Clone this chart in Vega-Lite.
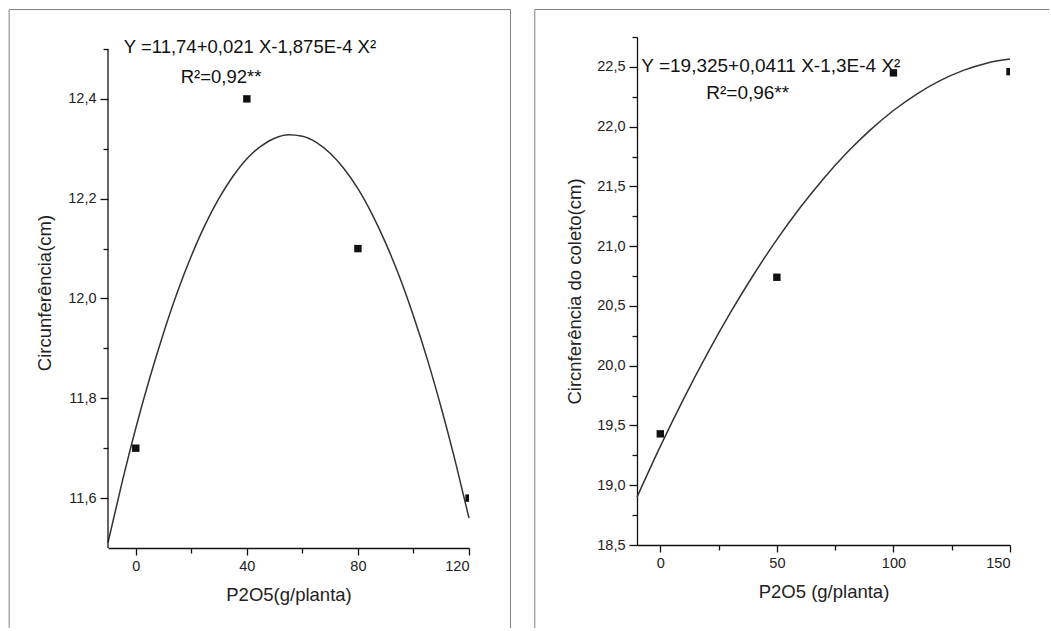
{
  "$schema": "https://vega.github.io/schema/vega-lite/v6.json",
  "padding": {"left": 8, "top": 9, "right": 0, "bottom": 0},
  "background": "white",
  "spacing": 22,
  "config": {
    "view": {"stroke": null},
    "font": "Liberation Sans",
    "axis": {
      "grid": false, "domainColor": "#111", "tickColor": "#111", "domainWidth": 1.3, "tickWidth": 1.3,
      "labelFont": "Liberation Sans", "labelFontSize": 14.5, "labelColor": "#222",
      "titleFont": "Liberation Sans", "titleFontSize": 18.5, "titleFontWeight": "normal", "titleColor": "#222"
    }
  },
  "datasets": {
    "pts1": [{"x": 0, "y": 11.7}, {"x": 40, "y": 12.4}, {"x": 80, "y": 12.1}, {"x": 120, "y": 11.6}],
    "fit1": [
      {"x": -10, "y": 11.511}, {"x": -5, "y": 11.630}, {"x": 0, "y": 11.740}, {"x": 5, "y": 11.840},
      {"x": 10, "y": 11.931}, {"x": 15, "y": 12.013}, {"x": 20, "y": 12.085}, {"x": 25, "y": 12.148},
      {"x": 30, "y": 12.201}, {"x": 35, "y": 12.245}, {"x": 40, "y": 12.280}, {"x": 45, "y": 12.305},
      {"x": 50, "y": 12.321}, {"x": 55, "y": 12.328}, {"x": 60, "y": 12.325}, {"x": 65, "y": 12.313},
      {"x": 70, "y": 12.291}, {"x": 75, "y": 12.260}, {"x": 80, "y": 12.220}, {"x": 85, "y": 12.170},
      {"x": 90, "y": 12.111}, {"x": 95, "y": 12.043}, {"x": 100, "y": 11.965}, {"x": 105, "y": 11.878},
      {"x": 110, "y": 11.781}, {"x": 115, "y": 11.675}, {"x": 120, "y": 11.560}
    ],
    "pts2": [{"x": 0, "y": 19.43}, {"x": 50, "y": 20.74}, {"x": 100, "y": 22.45}, {"x": 150, "y": 22.46}],
    "fit2": [
      {"x": -10, "y": 18.901}, {"x": 0, "y": 19.325}, {"x": 10, "y": 19.723}, {"x": 20, "y": 20.095},
      {"x": 30, "y": 20.441}, {"x": 40, "y": 20.761}, {"x": 50, "y": 21.055}, {"x": 60, "y": 21.323},
      {"x": 70, "y": 21.565}, {"x": 80, "y": 21.781}, {"x": 90, "y": 21.971}, {"x": 100, "y": 22.135},
      {"x": 110, "y": 22.273}, {"x": 120, "y": 22.385}, {"x": 130, "y": 22.471}, {"x": 140, "y": 22.531},
      {"x": 150, "y": 22.565}
    ]
  },
  "hconcat": [
    {
      "width": 361, "height": 511,
      "resolve": {"axis": {"x": "independent", "y": "independent"}},
      "layer": [
        {
          "data": {"name": "fit1"},
          "mark": {"type": "line", "color": "#333", "strokeWidth": 1.5, "interpolate": "monotone"},
          "encoding": {
            "x": {"field": "x", "type": "quantitative", "scale": {"domain": [-10, 120], "nice": false, "zero": false},
              "axis": {"values": [0, 40, 80, 120], "tickSize": 7, "labelPadding": 4, "title": "P2O5(g/planta)", "titlePadding": 13}},
            "y": {"field": "y", "type": "quantitative", "scale": {"domain": [11.5, 12.524], "nice": false, "zero": false},
              "axis": {"values": [11.6, 11.8, 12.0, 12.2, 12.4], "domain": false, "tickSize": 8, "labelPadding": 4,
                "title": "Circunferência(cm)", "titlePadding": 13,
                "labelExpr": "replace(format(datum.value, '.1f'), '.', ',')"}}
          }
        },
        {
          "data": {"name": "pts1"},
          "mark": {"type": "point", "shape": "square", "filled": true, "size": 55, "color": "#111", "opacity": 1, "clip": true},
          "encoding": {
            "x": {"field": "x", "type": "quantitative",
              "axis": {"orient": "bottom", "values": [20, 60, 100], "tickSize": 5, "labels": false, "domain": false, "title": null}},
            "y": {"field": "y", "type": "quantitative",
              "axis": {"orient": "left", "values": [11.7, 11.9, 12.1, 12.3, 12.5], "tickSize": 5, "labels": false, "domain": false, "title": null}}
          }
        },
        {
          "data": {"values": [{}]},
          "mark": {"type": "rule", "color": "#111", "strokeWidth": 1.3},
          "encoding": {
            "x": {"datum": -10, "type": "quantitative", "axis": null},
            "y": {"datum": 11.5, "type": "quantitative", "axis": null},
            "y2": {"datum": 12.5}
          }
        },
        {
          "data": {"values": [{}]},
          "mark": {"type": "rule", "color": "#808080", "strokeWidth": 1},
          "encoding": {
            "x": {"datum": -45.59, "type": "quantitative", "axis": null},
            "y": {"datum": 11.34, "type": "quantitative", "axis": null},
            "y2": {"datum": 12.579}
          }
        },
        {
          "data": {"values": [{}]},
          "mark": {"type": "rule", "color": "#808080", "strokeWidth": 1},
          "encoding": {
            "x": {"datum": 134.95, "type": "quantitative", "axis": null},
            "y": {"datum": 11.34, "type": "quantitative", "axis": null},
            "y2": {"datum": 12.579}
          }
        },
        {
          "data": {"values": [{}]},
          "mark": {"type": "rule", "color": "#808080", "strokeWidth": 1},
          "encoding": {
            "x": {"datum": -45.59, "type": "quantitative", "axis": null},
            "x2": {"datum": 134.95},
            "y": {"datum": 12.579, "type": "quantitative", "axis": null}
          }
        },
        {
          "data": {"values": [{}]},
          "mark": {"type": "text", "align": "left", "baseline": "middle", "fontSize": 18.5, "color": "#111", "text": "Y =11,74+0,021 X-1,875E-4 X²"},
          "encoding": {
            "x": {"datum": -4.32, "type": "quantitative", "axis": null},
            "y": {"datum": 12.504, "type": "quantitative", "axis": null}
          }
        },
        {
          "data": {"values": [{}]},
          "mark": {"type": "text", "align": "left", "baseline": "middle", "fontSize": 18.5, "color": "#111", "text": "R²=0,92**"},
          "encoding": {
            "x": {"datum": 16.2, "type": "quantitative", "axis": null},
            "y": {"datum": 12.444, "type": "quantitative", "axis": null}
          }
        }
      ]
    },
    {
      "width": 373, "height": 508,
      "resolve": {"axis": {"x": "independent", "y": "independent"}},
      "layer": [
        {
          "data": {"name": "fit2"},
          "mark": {"type": "line", "color": "#333", "strokeWidth": 1.5, "interpolate": "monotone"},
          "encoding": {
            "x": {"field": "x", "type": "quantitative", "scale": {"domain": [-10, 150], "nice": false, "zero": false},
              "axis": {"values": [0, 50, 100, 150], "tickSize": 7, "labelPadding": 4, "title": "P2O5 (g/planta)", "titlePadding": 13}},
            "y": {"field": "y", "type": "quantitative", "scale": {"domain": [18.5, 22.75], "nice": false, "zero": false},
              "axis": {"values": [18.5, 19.0, 19.5, 20.0, 20.5, 21.0, 21.5, 22.0, 22.5], "tickSize": 8, "labelPadding": 4,
                "title": "Circnferência do coleto(cm)", "titlePadding": 12,
                "labelExpr": "replace(format(datum.value, '.1f'), '.', ',')"}}
          }
        },
        {
          "data": {"name": "pts2"},
          "mark": {"type": "point", "shape": "square", "filled": true, "size": 55, "color": "#111", "opacity": 1, "clip": true},
          "encoding": {
            "x": {"field": "x", "type": "quantitative",
              "axis": {"orient": "bottom", "values": [25, 75, 125], "tickSize": 5, "labels": false, "domain": false, "title": null}},
            "y": {"field": "y", "type": "quantitative",
              "axis": {"orient": "left", "values": [18.75, 19.25, 19.75, 20.25, 20.75, 21.25, 21.75, 22.25, 22.75], "tickSize": 5, "labels": false, "domain": false, "title": null}}
          }
        },
        {
          "data": {"values": [{}]},
          "mark": {"type": "rule", "color": "#808080", "strokeWidth": 1},
          "encoding": {
            "x": {"datum": -53.84, "type": "quantitative", "axis": null},
            "y": {"datum": 17.806, "type": "quantitative", "axis": null},
            "y2": {"datum": 22.98}
          }
        },
        {
          "data": {"values": [{}]},
          "mark": {"type": "rule", "color": "#808080", "strokeWidth": 1},
          "encoding": {
            "x": {"datum": -53.84, "type": "quantitative", "axis": null},
            "x2": {"datum": 166.9},
            "y": {"datum": 22.98, "type": "quantitative", "axis": null}
          }
        },
        {
          "data": {"values": [{}]},
          "mark": {"type": "text", "align": "left", "baseline": "middle", "fontSize": 19, "color": "#111", "text": "Y =19,325+0,0411 X-1,3E-4 X²"},
          "encoding": {
            "x": {"datum": -8.16, "type": "quantitative", "axis": null},
            "y": {"datum": 22.507, "type": "quantitative", "axis": null}
          }
        },
        {
          "data": {"values": [{}]},
          "mark": {"type": "text", "align": "left", "baseline": "middle", "fontSize": 19, "color": "#111", "text": "R²=0,96**"},
          "encoding": {
            "x": {"datum": 19.7, "type": "quantitative", "axis": null},
            "y": {"datum": 22.281, "type": "quantitative", "axis": null}
          }
        }
      ]
    }
  ]
}
